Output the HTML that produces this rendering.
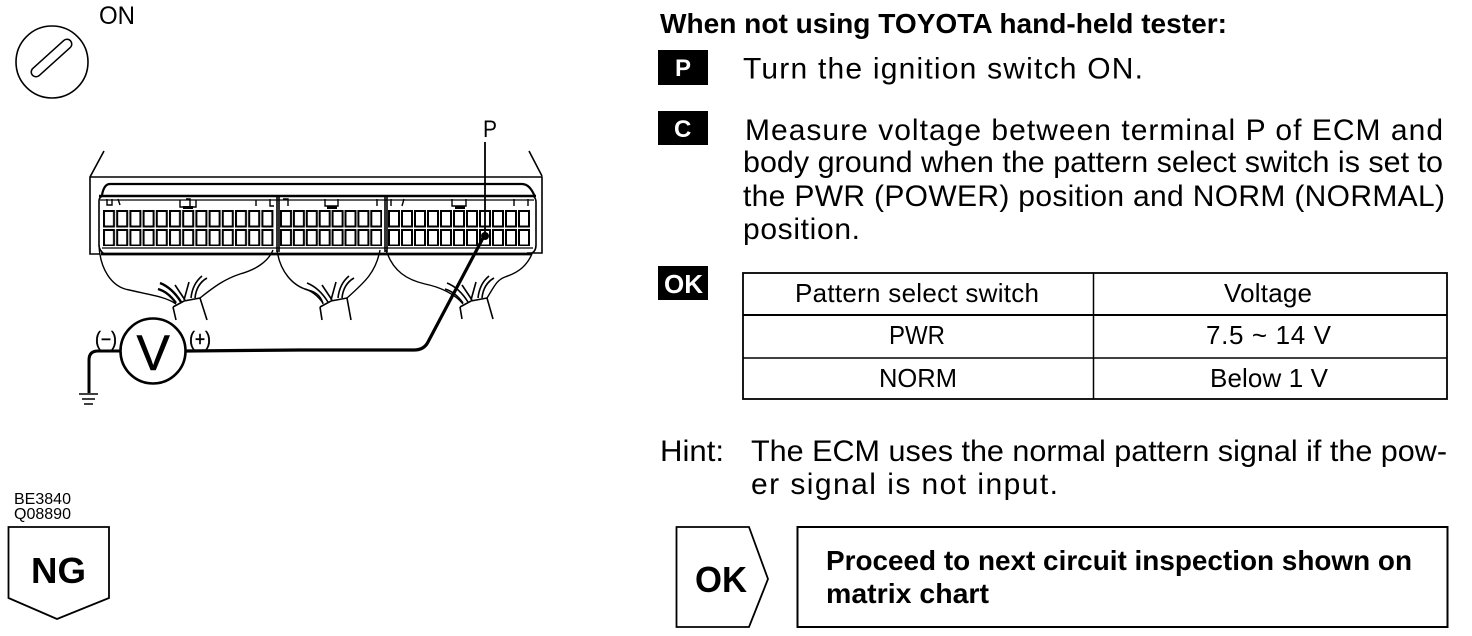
<!DOCTYPE html>
<html><head><meta charset="utf-8"><style>
html,body{margin:0;padding:0;background:#fff;width:1472px;height:636px;overflow:hidden}
svg{display:block}
text{font-family:"Liberation Sans",sans-serif;fill:#000}
.b{font-weight:bold}
.t{font-size:30px}
.m{font-size:26px}
.w{fill:#fff;font-weight:bold}
</style></head><body>
<svg width="1472" height="636" viewBox="0 0 1472 636" xmlns="http://www.w3.org/2000/svg">
<defs>
<pattern id="c1" patternUnits="userSpaceOnUse" x="103" y="210" width="13.2" height="19"><rect x="1" y="1" width="10" height="15.500" fill="none" stroke="#000" stroke-width="2"/></pattern>
<pattern id="c2" patternUnits="userSpaceOnUse" x="280" y="210" width="12.9" height="19"><rect x="1" y="1" width="10" height="15.500" fill="none" stroke="#000" stroke-width="2"/></pattern>
<pattern id="c3" patternUnits="userSpaceOnUse" x="388" y="210" width="13" height="19"><rect x="1" y="1" width="10" height="15.500" fill="none" stroke="#000" stroke-width="2"/></pattern>
</defs>
<rect width="1472" height="636" fill="#fff"/>

<!-- dial -->
<circle cx="52" cy="62" r="36" fill="none" stroke="#000" stroke-width="1.6"/>
<line x1="36" y1="72" x2="67" y2="44" stroke="#000" stroke-width="11" stroke-linecap="round"/>
<line x1="36" y1="72" x2="67" y2="44" stroke="#fff" stroke-width="8" stroke-linecap="round"/>
<text x="99" y="24" font-size="25" textLength="36" lengthAdjust="spacingAndGlyphs">ON</text>

<!-- connector -->
<g fill="none" stroke="#000">
<path d="M104 151L90 177V254H100M90 177H542V253H527M529 151L542 176" stroke-width="1.6"/>
<path d="M102 195Q104 184 110 184H522Q530 184 535 197" stroke-width="2.2"/>
<path d="M99 196H536" stroke-width="2.6"/>
<path d="M100 200H534" stroke-width="1.2"/>
<path d="M101 254H532" stroke-width="2.8"/>
<path d="M102 248H533" stroke-width="1.3"/>
<path d="M104 254Q99 250 99 245V201Q99 197 103 196M277 196V252M279 196V252M385 196V252M387 196V252M533 196Q536 198 536 202V245Q536 252 530 254" stroke-width="1.6"/>
<path d="M180 200V207H196V200M186 199H190V206M325 199V206H338V199M452 199V206H466V199M107 199V205H112V199M118 199L120 205M256 200V206M270 199V206H274M283 199H288V206M377 199V206M391 199V206M404 199L402 206M514 199V206M528 199V206" stroke-width="1.4"/>
</g>
<rect x="103" y="210" width="171" height="36" fill="url(#c1)"/>
<rect x="280" y="210" width="102" height="36" fill="url(#c2)"/>
<rect x="388" y="210" width="142" height="36" fill="url(#c3)"/>
<rect x="183" y="206" width="10" height="3" fill="#000"/>
<rect x="327" y="206" width="10" height="3" fill="#000"/>
<rect x="455" y="206" width="10" height="3" fill="#000"/>

<!-- wires -->
<g fill="none" stroke="#000" stroke-width="1.4">
<path d="M99 245C100 270 112 285 125 289C145 294 165 296 176 304"/>
<path d="M273 250C268 262 255 270 240 274C225 279 215 286 200 298"/>
<path d="M277 250C280 272 293 286 308 290C318 292 322 299 323 304"/>
<path d="M380 250C376 272 365 282 347 298"/>
<path d="M386 250C393 272 408 280 425 284C440 287 455 294 463 304"/>
<path d="M532 254C527 265 520 272 505 277C497 280 495 285 487 298"/>
<g stroke-width="1.6">
<path d="M173 307L184 301L200 298L207 320M173 307L176 320"/>
<path d="M160 283C170 287 176 294 181 302" stroke-width="2.4"/>
<path d="M158 289C165 291 171 296 176 303" stroke-width="2.4"/>
<path d="M175 285L185 300M189 282L184 300M202 276C196 281 192 288 191 298M207 278C200 282 196 288 195 298"/>
</g>
<g stroke-width="1.6" transform="translate(147 0)">
<path d="M173 307L184 301L200 298L204 320M173 307L175 320"/>
<path d="M160 283C170 287 176 294 181 302M158 289C165 291 171 296 176 303M175 285L185 300M189 282L184 300M202 276C196 281 192 288 191 298M207 278C200 282 196 288 195 298"/>
</g>
<g stroke-width="1.6" transform="translate(287 0)">
<path d="M173 307L184 301L200 298L206 319M173 307L175 319"/>
<path d="M160 283C170 287 176 294 181 302M158 289C165 291 171 296 176 303M175 285L185 300M189 282L184 300M202 276C196 281 192 288 191 298M207 278C200 282 196 288 195 298"/>
</g>
</g>

<!-- probe -->
<text x="483" y="137" font-size="24" textLength="14" lengthAdjust="spacingAndGlyphs">P</text>
<line x1="485" y1="142" x2="485" y2="234" stroke="#000" stroke-width="1.8"/>
<circle cx="485" cy="236" r="4" fill="#000"/>
<path d="M483 238L428 342Q424 350 414 350H300L186 351" fill="none" stroke="#000" stroke-width="3.2"/>

<!-- meter -->
<circle cx="153" cy="351" r="32.500" fill="#fff" stroke="#000" stroke-width="2.600"/>
<text x="136.500" y="370" font-size="50" stroke="#000" stroke-width=".5">V</text>
<path d="M120 351H98Q89 351 89 360V393" fill="none" stroke="#000" stroke-width="3"/>
<path d="M79 394H98M82 399H95M84 404H93" stroke="#000" stroke-width="1.4"/>
<text x="95" y="346" font-size="20" textLength="22" lengthAdjust="spacingAndGlyphs" stroke="#000" stroke-width=".4">(−)</text>
<text x="189" y="346" font-size="20" textLength="22" lengthAdjust="spacingAndGlyphs" stroke="#000" stroke-width=".4">(+)</text>

<!-- NG -->
<text x="14" y="504" font-size="15.500" textLength="57" lengthAdjust="spacingAndGlyphs">BE3840</text>
<text x="14" y="519" font-size="15.500" textLength="57" lengthAdjust="spacingAndGlyphs">Q08890</text>
<path d="M8.500 527H109V598L57 619L8.500 598Z" fill="none" stroke="#000" stroke-width="1.800"/>
<text x="31" y="583" font-size="36" class="b" textLength="55" lengthAdjust="spacingAndGlyphs">NG</text>

<!-- right column -->
<text x="660" y="33" font-size="27.800" class="b" textLength="567" lengthAdjust="spacingAndGlyphs">When not using TOYOTA hand-held tester:</text>
<rect x="658" y="50" width="50" height="35" fill="#000"/>
<text x="675" y="76" font-size="24" class="w">P</text>
<text class="t" x="743" y="78.500" textLength="400">Turn the ignition switch ON.</text>
<rect x="658" y="111" width="50" height="34" fill="#000"/>
<text x="674" y="137" font-size="24" class="w">C</text>
<text class="t" x="745" y="140" textLength="698">Measure voltage between terminal P of ECM and</text>
<text class="t" x="743" y="172" textLength="700" lengthAdjust="spacingAndGlyphs">body ground when the pattern select switch is set to</text>
<text class="t" x="743" y="206" textLength="702">the PWR (POWER) position and NORM (NORMAL)</text>
<text class="t" x="743" y="239" textLength="117">position.</text>
<rect x="658" y="266" width="50" height="34" fill="#000"/>
<text x="664" y="293" font-size="26" class="w" textLength="39" lengthAdjust="spacingAndGlyphs">OK</text>

<!-- table -->
<g fill="none" stroke="#000">
<rect x="743" y="273" width="704" height="126" stroke-width="1.800"/>
<path d="M743 315H1447" stroke-width="2"/>
<path d="M743 358H1447" stroke-width="1.500"/>
<path d="M1093.500 273V399" stroke-width="1.500"/>
</g>
<text class="m" x="795" y="302" textLength="244">Pattern select switch</text>
<text class="m" x="1224" y="302" textLength="88">Voltage</text>
<text class="m" x="889" y="344" textLength="56" lengthAdjust="spacingAndGlyphs">PWR</text>
<text class="m" x="1206" y="344" textLength="125">7.5 ~ 14 V</text>
<text class="m" x="879" y="387" textLength="78" lengthAdjust="spacingAndGlyphs">NORM</text>
<text class="m" x="1210" y="387" textLength="118">Below 1 V</text>

<text class="t" x="660" y="461" textLength="64" lengthAdjust="spacingAndGlyphs">Hint:</text>
<text class="t" x="751" y="461" textLength="696" lengthAdjust="spacingAndGlyphs">The ECM uses the normal pattern signal if the pow-</text>
<text class="t" x="751" y="494" textLength="307">er signal is not input.</text>

<!-- OK + box -->
<path d="M676.500 527H749L768 579L749 627H676.500Z" fill="none" stroke="#000" stroke-width="1.800"/>
<text x="695" y="592" font-size="36" class="b" textLength="52" lengthAdjust="spacingAndGlyphs">OK</text>
<rect x="797.500" y="527" width="650" height="100" fill="none" stroke="#000" stroke-width="2"/>
<text x="826" y="570" font-size="28" class="b" textLength="586" lengthAdjust="spacingAndGlyphs">Proceed to next circuit inspection shown on</text>
<text x="826" y="603" font-size="28" class="b" textLength="163" lengthAdjust="spacingAndGlyphs">matrix chart</text>
</svg>
</body></html>
